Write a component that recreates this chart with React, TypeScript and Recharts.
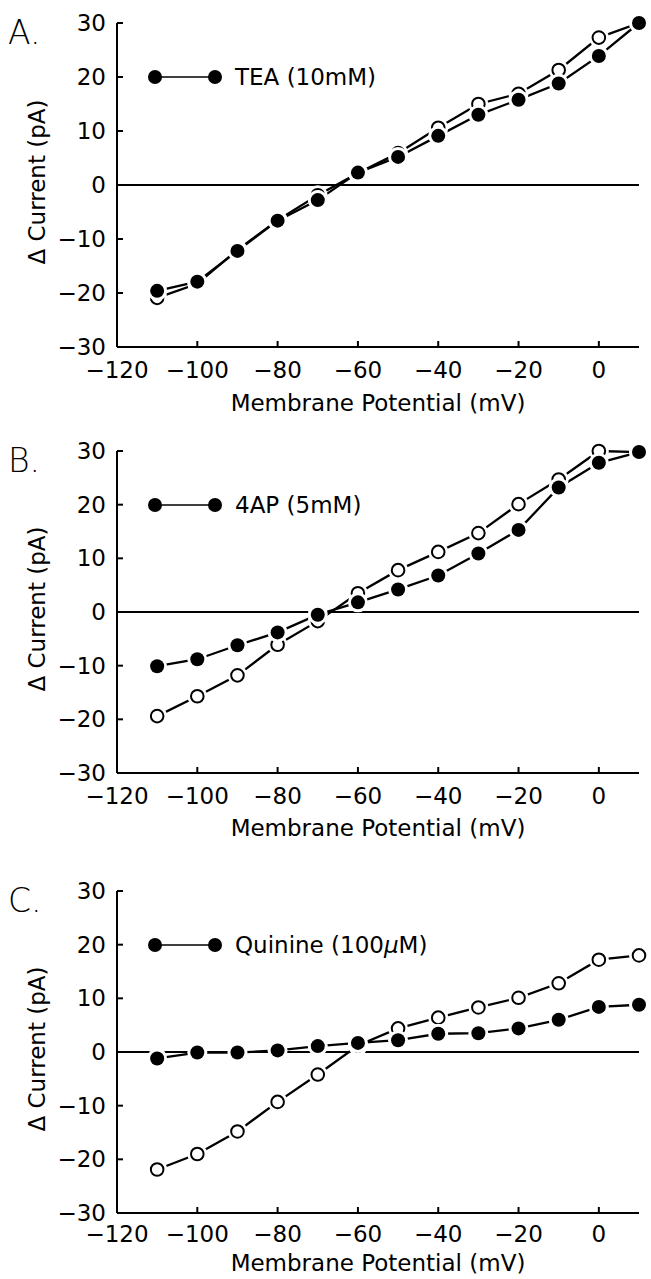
import React from "react";
import {
  LineChart,
  Line,
  XAxis,
  YAxis,
  ReferenceLine,
  Legend,
} from "recharts";

// membrane potential steps (mV)
const voltages = [-110, -100, -90, -80, -70, -60, -50, -40, -30, -20, -10, 0, 10];
const xTicks = [-120, -100, -80, -60, -40, -20, 0];
const yTicks = [-30, -20, -10, 0, 10, 20, 30];

// open circles = control, filled circles = with blocker
const teaControl = [-20.9, -18.3, -12.0, -6.5, -1.9, 2.2, 5.9, 10.6, 15.0, 16.9, 21.3, 27.3, 30.0];
const teaDrug = [-19.6, -17.9, -12.2, -6.6, -2.8, 2.3, 5.2, 9.1, 13.0, 15.8, 18.8, 23.9, 30.0];

const apControl = [-19.4, -15.7, -11.8, -6.1, -1.7, 3.5, 7.8, 11.2, 14.7, 20.1, 24.7, 30.0, 29.8];
const apDrug = [-10.1, -8.8, -6.2, -3.8, -0.5, 1.8, 4.2, 6.8, 10.9, 15.3, 23.2, 27.8, 29.8];

const quinControl = [-21.9, -19.0, -14.8, -9.3, -4.2, 1.2, 4.4, 6.4, 8.3, 10.1, 12.8, 17.2, 18.0];
const quinDrug = [-1.2, -0.1, -0.1, 0.3, 1.1, 1.7, 2.2, 3.4, 3.5, 4.4, 6.0, 8.4, 8.8];

const FONT = '"DejaVu Sans", sans-serif';
const W = 651;
const TOP = 23;
const X_AXIS_H = 79;
const LEFT = 117;
const RIGHT = 639;

const fmt = (v: number) => (v < 0 ? `\u2212${Math.abs(v)}` : `${v}`);

function FilledDot(props: any) {
  const { cx, cy, index } = props;
  if (cx == null || cy == null) return <g key={`f-${index}`} />;
  return (
    <g key={`f-${index}`}>
      <circle cx={cx} cy={cy} r={10} fill="#fff" />
      <circle cx={cx} cy={cy} r={7} fill="#000" />
    </g>
  );
}

function OpenDot(props: any) {
  const { cx, cy, index } = props;
  if (cx == null || cy == null) return <g key={`o-${index}`} />;
  return (
    <g key={`o-${index}`}>
      <circle cx={cx} cy={cy} r={10} fill="#fff" />
      <circle cx={cx} cy={cy} r={6.3} fill="#fff" stroke="#000" strokeWidth={2} />
    </g>
  );
}

function LegendRow({ name }: { name: React.ReactNode }) {
  return (
    <div
      style={{
        display: "flex",
        alignItems: "center",
        fontFamily: FONT,
        fontSize: 23,
        lineHeight: "28px",
        color: "#000",
        whiteSpace: "nowrap",
      }}
    >
      <svg width={76} height={16} style={{ display: "block" }}>
        <line x1={8} x2={68} y1={8} y2={8} stroke="#000" strokeWidth={1.5} />
        <circle cx={8} cy={8} r={7} fill="#000" />
        <circle cx={68} cy={8} r={7} fill="#000" />
      </svg>
      <span style={{ marginLeft: 12 }}>{name}</span>
    </div>
  );
}

type PanelProps = {
  letter: string;
  name: React.ReactNode;
  control: number[];
  drug: number[];
  top: number;
  height: number;
  tickDy: number;
  titleDy: number;
};

function Panel({ letter, name, control, drug, top, height, tickDy, titleDy }: PanelProps) {
  const data = voltages.map((v, i) => ({ v, control: control[i], drug: drug[i] }));
  const plotBottom = height - X_AXIS_H;
  const midY = (TOP + plotBottom) / 2;

  const xTick = (p: any) => (
    <g key={`xt-${p.payload.value}`}>
      {p.payload.value !== -120 && (
        <line x1={p.x} x2={p.x} y1={p.y} y2={p.y - 6} stroke="#000" strokeWidth={2} />
      )}
      <text x={p.x} y={p.y + tickDy} textAnchor="middle" fontFamily={FONT} fontSize={23} fill="#000">
        {fmt(p.payload.value)}
      </text>
    </g>
  );

  const yTick = (p: any) => (
    <g key={`yt-${p.payload.value}`}>
      <line x1={p.x} x2={p.x + 6} y1={p.y} y2={p.y} stroke="#000" strokeWidth={2} />
      <text x={p.x - 11} y={p.y + 8} textAnchor="end" fontFamily={FONT} fontSize={23} fill="#000">
        {fmt(p.payload.value)}
      </text>
    </g>
  );

  const xTitle = () => (
    <text
      x={(LEFT + RIGHT) / 2}
      y={plotBottom + titleDy}
      textAnchor="middle"
      fontFamily={FONT}
      fontSize={23}
      fill="#000"
    >
      Membrane Potential (mV)
    </text>
  );

  const yTitle = () => (
    <g>
      <text x={8} y={TOP + 21} fontFamily={FONT} fontSize={33} fontWeight={200} fill="#000">
        {letter}
      </text>
      <text
        x={37}
        y={midY - 3}
        textAnchor="middle"
        dominantBaseline="central"
        transform={`rotate(-90, 37, ${midY - 3})`}
        fontFamily={FONT}
        fontSize={23}
        fill="#000"
      >
        Δ Current (pA)
      </text>
    </g>
  );

  return (
    <div style={{ position: "absolute", left: 0, top }}>
      <LineChart
        width={W}
        height={height}
        data={data}
        margin={{ top: TOP, right: W - RIGHT, bottom: 0, left: 0 }}
      >
        <XAxis
          dataKey="v"
          type="number"
          domain={[-120, 10]}
          ticks={xTicks}
          interval={0}
          tickSize={0}
          tickMargin={0}
          tickLine={false}
          axisLine={{ stroke: "#000", strokeWidth: 2 }}
          tick={xTick}
          height={X_AXIS_H}
          label={xTitle}
        />
        <YAxis
          type="number"
          domain={[-30, 30]}
          ticks={yTicks}
          interval={0}
          tickSize={0}
          tickMargin={0}
          tickLine={false}
          axisLine={{ stroke: "#000", strokeWidth: 2 }}
          tick={yTick}
          width={LEFT}
          label={yTitle}
        />
        <ReferenceLine y={0} stroke="#000" strokeWidth={2} />
        <Line
          dataKey="control"
          stroke="#000"
          strokeWidth={2.3}
          dot={OpenDot}
          activeDot={false}
          isAnimationActive={false}
        />
        <Line
          dataKey="drug"
          stroke="#000"
          strokeWidth={2.3}
          dot={FilledDot}
          activeDot={false}
          isAnimationActive={false}
        />
        <Legend
          layout="horizontal"
          verticalAlign="middle"
          wrapperStyle={{ top: TOP + 54 - 14, left: 147, width: "auto" }}
          content={() => <LegendRow name={name} />}
        />
      </LineChart>
    </div>
  );
}

export default function App() {
  return (
    <div
      style={{
        position: "absolute",
        left: 0,
        top: 0,
        width: W,
        height: 1279,
        background: "#fff",
        overflow: "hidden",
      }}
    >
      <Panel letter="A." name="TEA (10mM)" control={teaControl} drug={teaDrug} top={0} height={426} tickDy={31} titleDy={64} />
      <Panel letter="B." name="4AP (5mM)" control={apControl} drug={apDrug} top={428} height={424} tickDy={31} titleDy={63} />
      <Panel
        letter="C."
        name={
          <>
            Quinine (100<i>μ</i>M)
          </>
        }
        control={quinControl}
        drug={quinDrug}
        top={868}
        height={424}
        tickDy={29}
        titleDy={58}
      />
    </div>
  );
}
